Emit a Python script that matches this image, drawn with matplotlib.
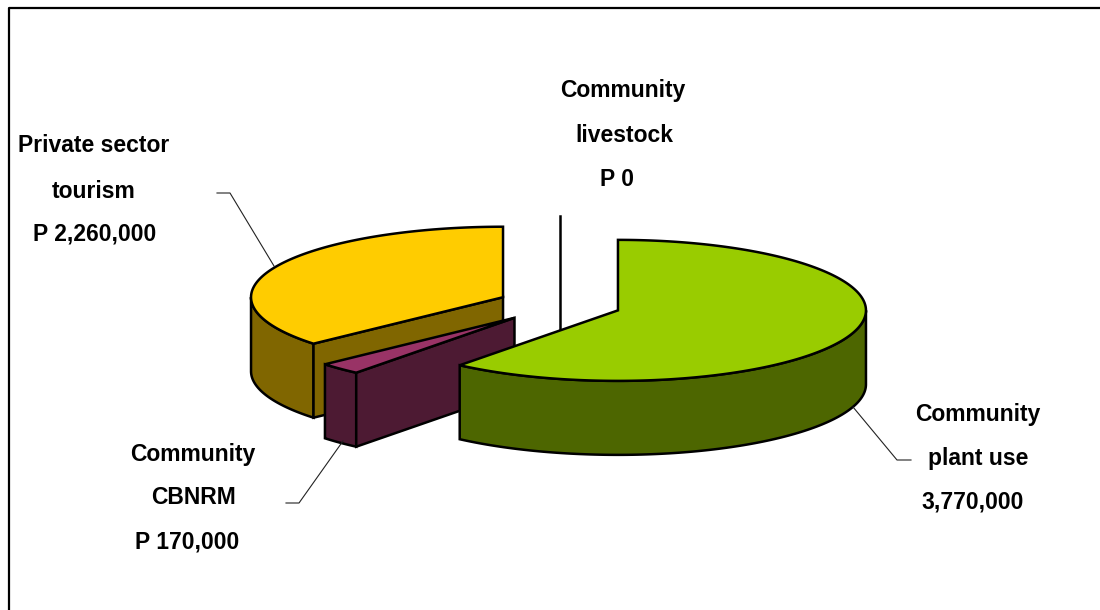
#!/usr/bin/env python3

import numpy as np
import matplotlib
matplotlib.use('Agg')
import matplotlib.pyplot as plt

# clockwise from 12 o'clock
values = [3770000, 170000, 2260000, 0]
top_colors = ['#99CC00', '#993366', '#FFCC00', '#FFFFFF']
side_colors = ['#4D6600', '#4D1A33', '#806600', '#808080']

label_text = ['Community', 'plant use', '3,770,000',
              'Community', 'CBNRM', 'P 170,000',
              'Private sector', 'tourism', 'P 2,260,000',
              'Community', 'livestock', 'P 0']
label_x = [978, 978, 973, 193, 193, 187, 94, 94, 95, 623, 624, 617]
label_y = [415, 459, 502, 454, 498, 542, 146, 191, 234, 91, 136, 179]

leader_x = [[853, 897, 911], [343, 299, 286], [274, 230, 217]]
leader_y = [[407, 460, 460], [441, 503, 503], [266, 193, 193]]

cx, cy = 559.5, 304.5
rx_right, rx_left = 248, 252
ry = 70.5
explode = [62, 65, 62, 62]
depth = 74

def rim(ax0, ay0, a):
    r = np.radians(a)
    s = np.sin(r)
    return ax0 + np.where(s < 0, rx_left, rx_right)*s, ay0 - ry*np.cos(r)

def draw_slice(ax, a0, a1, top, side, e):
    mid = np.radians((a0 + a1)/2)
    ax0 = cx + e*np.sin(mid)
    ay0 = cy - e*np.cos(mid)*ry/rx_right

    if a1 == a0:
        # empty slice, only the cut shows
        x, y = rim(ax0, ay0, a0)
        ax.plot([ax0, ax0], [y, ay0 + depth], color='k', lw=1.8, zorder=1)
        return

    # outer wall, front half only
    w0 = max(a0, 90); w1 = min(a1, 270)
    if w1 > w0:
        t = np.linspace(w0, w1, 120)
        x, y = rim(ax0, ay0, t)
        ax.fill(np.r_[x, x[::-1]], np.r_[y, y[::-1] + depth],
                fc=side, ec='k', lw=1.8, zorder=2)

    # cut face, when it looks towards the viewer
    if 180 < a0 < 360:
        x, y = rim(ax0, ay0, a0)
        ax.fill([ax0, x, x, ax0], [ay0, y, y + depth, ay0 + depth],
                fc=side, ec='k', lw=1.8, zorder=2)

    t = np.linspace(a0, a1, 240)
    x, y = rim(ax0, ay0, t)
    ax.fill(np.r_[ax0, x], np.r_[ay0, y], fc=top, ec='k', lw=1.8, zorder=2)

def main():
    plt.rcParams['font.family'] = ['Liberation Sans', 'DejaVu Sans']
    fig = plt.figure(figsize=(11, 6.1), dpi=100)
    ax = fig.add_axes([0, 0, 1, 1])
    ax.set_xlim(0, 1100)
    ax.set_ylim(610, 0)
    ax.axis('off')

    ax.plot([9, 9, 1100], [610, 8, 8], color='k', lw=1.6)

    edges = np.r_[0, np.cumsum(values)]/sum(values)*360
    # back slices first, the big front one last
    for i in [3, 2, 1, 0]:
        draw_slice(ax, edges[i], edges[i + 1], top_colors[i], side_colors[i], explode[i])

    for lx, ly in zip(leader_x, leader_y):
        ax.plot(lx, ly, color='#222222', lw=0.8, zorder=3)

    for t, x, y in zip(label_text, label_x, label_y):
        ax.text(x, y, t, ha='center', va='center', fontsize=16.5,
                fontweight='bold', color='k')

    fig.savefig('out.png', dpi=100)

if __name__ == "__main__":
    main()
